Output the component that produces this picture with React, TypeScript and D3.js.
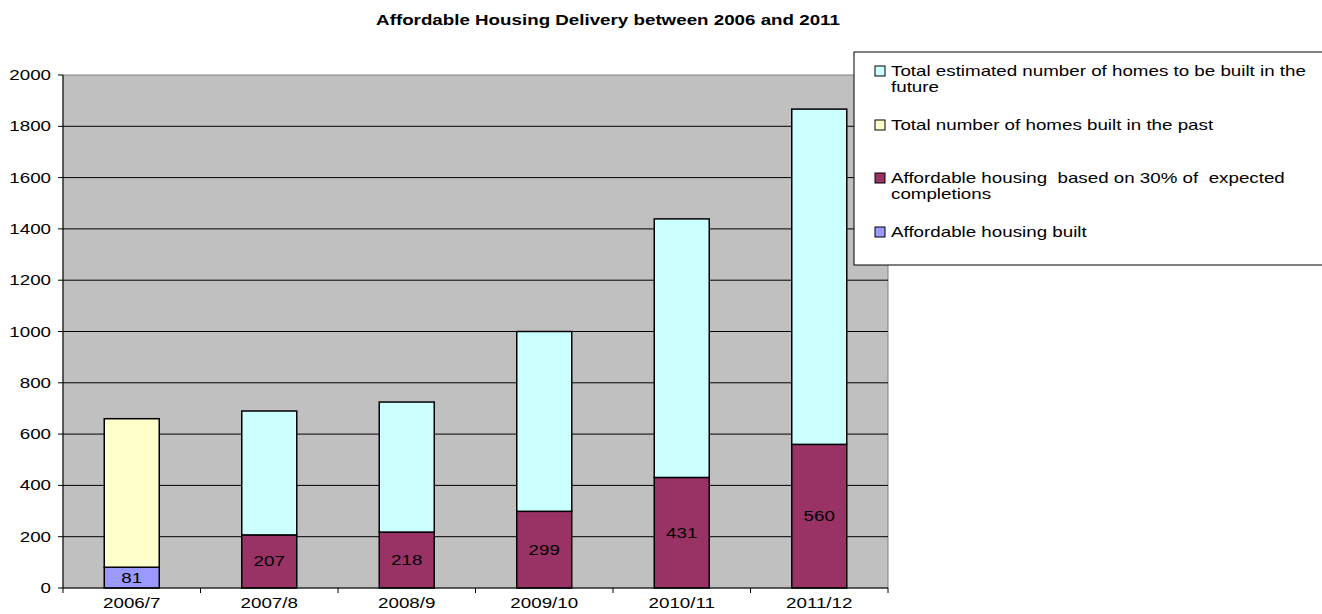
import React from "react";
import * as d3 from "d3";

const categories = ["2006/7", "2007/8", "2008/9", "2009/10", "2010/11", "2011/12"];
const affordableBuilt = [81, 0, 0, 0, 0, 0];
const affordable30 = [0, 207, 218, 299, 431, 560];
const homesPast = [579, 0, 0, 0, 0, 0];
const homesFuture = [0, 483, 507, 701, 1008, 1307];
const yTicks = [0, 200, 400, 600, 800, 1000, 1200, 1400, 1600, 1800, 2000];

const seriesKeys = ["built", "aff30", "past", "future"];
const seriesColors: Record<string, string> = {
  built: "#9999FF",
  aff30: "#993366",
  past: "#FFFFCC",
  future: "#CCFFFF",
};
const legendItems = [
  { key: "future", lines: ["Total estimated number of homes to be built in the", "future"] },
  { key: "past", lines: ["Total number of homes built in the past"] },
  { key: "aff30", lines: ["Affordable housing  based on 30% of  expected", "completions"] },
  { key: "built", lines: ["Affordable housing built"] },
];

const W = 1322;
const H = 614;
const left = 63;
const right = 888;
const top = 75;
const bottom = 588;
const font = "'Liberation Sans', Arial, sans-serif";
const SX = 1.34;

function T({ x, y, anchor = "start", size = 14, bold = false, children }: any) {
  return (
    <g transform={`translate(${x},${y}) scale(${SX},1)`}>
      <text x={0} y={0} textAnchor={anchor} fontSize={size} fontWeight={bold ? "bold" : "normal"} style={{ whiteSpace: "pre" }}>
        {children}
      </text>
    </g>
  );
}

export default function App() {
  const rows = categories.map((c, i) => ({
    cat: c,
    built: affordableBuilt[i],
    aff30: affordable30[i],
    past: homesPast[i],
    future: homesFuture[i],
  }));
  const stacked = d3.stack<any>().keys(seriesKeys)(rows);
  const x = d3.scaleBand<string>().domain(categories).range([left, right]).paddingInner(0.6).paddingOuter(0.3);
  const xOuter = d3.scaleBand<string>().domain(categories).range([left, right]);
  const y = d3.scaleLinear().domain([0, 2000]).range([bottom, top]);

  const legendRowY = [71, 125, 178, 232];

  return (
    <svg width={W} height={H} style={{ position: "absolute", left: 0, top: 0, background: "#fff" }} fontFamily={font}>
      <T x={608} y={25} anchor="middle" size={14} bold>
        Affordable Housing Delivery between 2006 and 2011
      </T>
      <rect x={left} y={top} width={right - left} height={bottom - top} fill="#C0C0C0" stroke="#808080" strokeWidth={1} />
      {yTicks.filter((t) => t > 0 && t < 2000).map((t) => (
        <line key={t} x1={left} x2={right} y1={y(t)} y2={y(t)} stroke="#000" strokeWidth={1} />
      ))}
      {/* bars */}
      {stacked.map((s) =>
        s.map((d, i) => {
          const h = y(d[0]) - y(d[1]);
          if (h <= 0) return null;
          return (
            <rect
              key={s.key + i}
              x={x(categories[i])}
              y={y(d[1])}
              width={x.bandwidth()}
              height={h}
              fill={seriesColors[s.key]}
              stroke="#000"
              strokeWidth={1.5}
            />
          );
        })
      )}
      {/* labels */}
      {stacked
        .filter((s) => s.key === "built" || s.key === "aff30")
        .map((s) =>
          s.map((d, i) => {
            const v = d[1] - d[0];
            if (v <= 0) return null;
            return (
              <T
                key={"l" + s.key + i}
                x={(x(categories[i]) as number) + x.bandwidth() / 2}
                y={(y(d[0]) + y(d[1])) / 2 + 5}
                anchor="middle"
              >
                {String(v)}
              </T>
            );
          })
        )}
      {/* axes */}
      <line x1={left} x2={left} y1={top} y2={bottom} stroke="#000" />
      <line x1={left} x2={right} y1={bottom} y2={bottom} stroke="#000" />
      {yTicks.map((t) => (
        <g key={"yt" + t}>
          <line x1={left - 5} x2={left} y1={y(t)} y2={y(t)} stroke="#000" />
          <T x={51} y={y(t) + 5} anchor="end">
            {String(t)}
          </T>
        </g>
      ))}
      {categories.map((c) => (
        <g key={"xt" + c}>
          <line x1={xOuter(c) as number} x2={xOuter(c) as number} y1={bottom} y2={bottom + 5} stroke="#000" />
          <T x={(xOuter(c) as number) + xOuter.bandwidth() / 2} y={608} anchor="middle">
            {c}
          </T>
        </g>
      ))}
      <line x1={right} x2={right} y1={bottom} y2={bottom + 5} stroke="#000" />
      {/* legend */}
      <rect x={854} y={52} width={480} height={213} fill="#fff" stroke="#000" strokeWidth={1} />
      {legendItems.map((it, k) => (
        <g key={it.key}>
          <rect x={875} y={legendRowY[k] - 5} width={10} height={10} fill={seriesColors[it.key]} stroke="#000" strokeWidth={1} />
          {it.lines.map((ln, j) => (
            <T key={j} x={891} y={legendRowY[k] + 5 + j * 16}>
              {ln}
            </T>
          ))}
        </g>
      ))}
    </svg>
  );
}
